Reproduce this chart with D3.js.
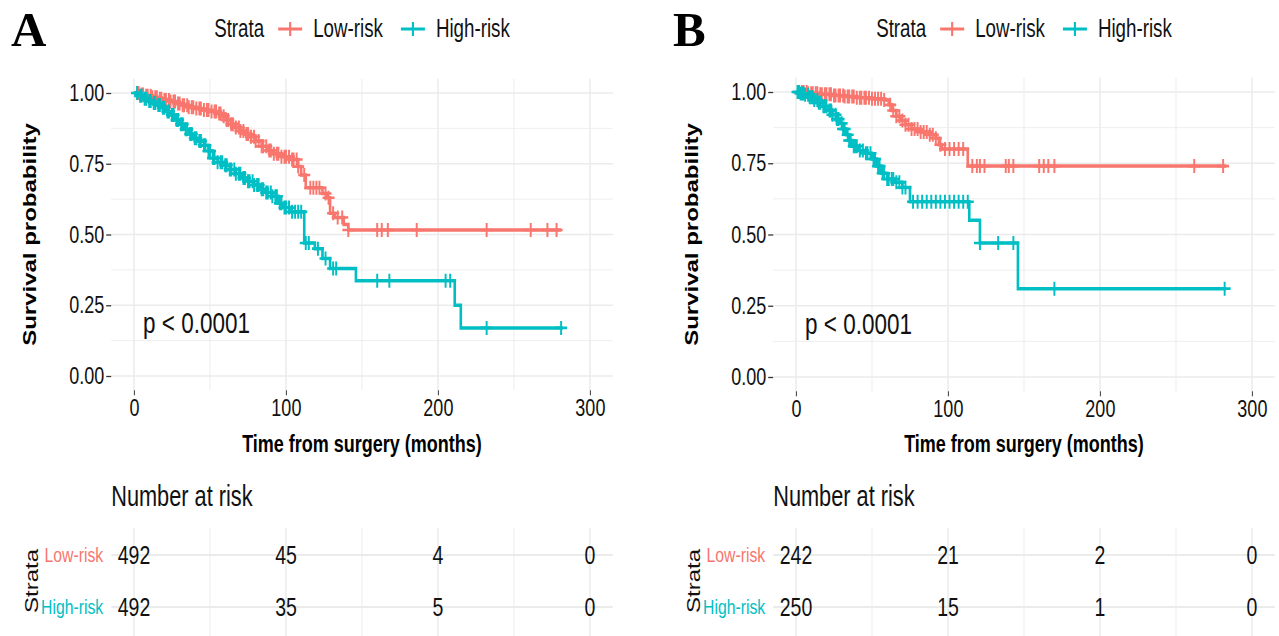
<!DOCTYPE html>
<html lang="en">
<head>
<meta charset="UTF-8">
<title>Survival by risk group</title>
<script src="https://d3js.org/d3.v7.min.js"></script>
<style>
  body { margin: 0; background: #fff; }
  svg { display: block; }
  text { font-family: "Liberation Sans", Arial, sans-serif; }
</style>
</head>
<body>
<svg id="chart"></svg>
<script>
const W = 1279, H = 636;
// the original figure is squeezed sideways, so draw wider and let the viewBox squash it
const SX = 0.75;
const px = v => v / SX;

const svg = d3.select("#chart")
    .attr("width", W).attr("height", H)
    .attr("viewBox", `0 0 ${W / SX} ${H}`)
    .attr("preserveAspectRatio", "none");

const strata = ["Low-risk", "High-risk"];
const colors = ["#F8766D", "#00BFC4"];
const xTicks = [0, 100, 200, 300];
const yTicks = [0, 0.25, 0.5, 0.75, 1];
const riskTimes = [0, 100, 200, 300];
const pText = "p < 0.0001";

// panel A: [months, survival] at each drop
const aLow = [[4,0.995],[8,0.99],[12,0.985],[16,0.98],[20,0.975],[24,0.97],[28,0.963],[32,0.957],[36,0.95],[40,0.945],[45,0.94],[50,0.935],[55,0.928],[58,0.918],[61,0.905],[64,0.89],[67,0.878],[70,0.866],[73,0.855],[76,0.845],[80,0.83],[84,0.812],[88,0.797],[92,0.785],[97,0.775],[103,0.765],[108,0.74],[110,0.71],[113,0.665],[124,0.645],[127,0.63],[129,0.575],[132,0.56],[138,0.535],[141,0.516]];
const aHigh = [[3,0.99],[6,0.98],[9,0.972],[12,0.965],[15,0.958],[18,0.948],[21,0.935],[24,0.922],[27,0.905],[30,0.89],[33,0.872],[36,0.855],[39,0.84],[42,0.83],[46,0.815],[49,0.795],[52,0.77],[55,0.755],[59,0.745],[63,0.73],[67,0.715],[71,0.70],[75,0.688],[79,0.675],[83,0.66],[87,0.648],[91,0.635],[95,0.61],[98,0.595],[103,0.58],[112,0.47],[119,0.45],[124,0.415],[129,0.38],[146,0.337],[211,0.25],[215,0.17]];
const aLowCens = [3,5,6,8,9,11,12,14,15,17,18,20,21,23,24,26,27,29,30,32,33,35,36,38,39,41,43,44,46,48,49,51,53,54,56,57,59,61,62,64,65,67,69,70,72,74,75,77,79,80,82,84,85,87,89,90,92,94,95,97,99,100,102,104,105,107,108,112,116,118,120,122,126,128,131,134,137,141,160,163,167,186,232,261,272,278];
const aHighCens = [2,4,5,7,8,10,11,13,14,16,17,19,20,22,23,25,26,28,29,31,32,34,35,37,38,40,41,43,44,46,47,49,50,52,53,55,57,58,60,61,63,64,66,67,69,70,72,73,75,76,78,79,81,82,84,85,87,88,90,91,93,94,96,97,99,100,102,104,106,108,110,113,115,121,126,131,133,160,168,205,208,232,281];
const aEnd = [281, 282];
const aRisk = [[492, 45, 4, 0], [492, 35, 5, 0]];

// panel B
const bLow = [[8,0.996],[16,0.992],[24,0.988],[32,0.984],[40,0.98],[50,0.976],[58,0.972],[61,0.955],[63,0.935],[66,0.915],[69,0.9],[72,0.885],[76,0.87],[82,0.86],[88,0.85],[92,0.838],[94,0.815],[96,0.8],[113,0.74]];
const bHigh = [[3,0.995],[6,0.99],[9,0.982],[12,0.972],[15,0.962],[18,0.95],[21,0.935],[24,0.92],[27,0.905],[29,0.89],[31,0.87],[33,0.85],[35,0.83],[37,0.81],[41,0.795],[46,0.785],[50,0.765],[53,0.74],[56,0.715],[60,0.695],[65,0.683],[70,0.665],[75,0.615],[114,0.55],[121,0.47],[146,0.31]];
const bLowCens = [2,4,5,7,8,10,11,13,14,16,17,19,20,22,23,25,26,28,29,31,32,34,35,37,38,40,42,43,45,46,48,50,52,54,56,58,62,64,66,68,70,72,74,76,78,80,82,84,86,88,90,92,95,98,101,104,107,110,116,119,121,124,138,140,143,160,163,166,170,262,281];
const bHighCens = [1,2,3,4,5,6,8,9,10,11,12,14,15,16,18,19,20,22,23,24,26,27,28,30,31,32,34,35,36,38,39,40,42,44,46,47,49,51,52,54,55,57,58,60,61,63,64,66,68,70,72,77,80,83,86,89,92,95,98,101,104,107,110,113,121,133,143,170,282];
const bEnd = [283, 283];
const bRisk = [[242, 21, 2, 0], [250, 15, 1, 0]];

function survAt(events, t) {
    let s = 1;
    events.forEach(e => { if (e[0] <= t) s = e[1]; });
    return s;
}

function drawPanel(o) {
    const g = svg.append("g");
    const x = d3.scaleLinear().domain([0, 300]).range([px(o.x0), px(o.x0 + 456)]);
    const y = d3.scaleLinear().domain([0, 1]).range([o.y0, o.y1]);
    const xl = x(-15), xr = x(315), yt = y(1.05), yb = y(-0.05);

    // grid
    const grid = g.append("g");
    d3.range(0, 301, 50).forEach(t => {
        grid.append("line").attr("x1", x(t)).attr("x2", x(t)).attr("y1", yt).attr("y2", yb)
            .attr("stroke", "#ebebeb").attr("stroke-width", t % 100 ? 1.2 : 2);
    });
    d3.range(0, 1.01, 0.125).forEach(s => {
        grid.append("line").attr("x1", xl).attr("x2", xr).attr("y1", y(s)).attr("y2", y(s))
            .attr("stroke", "#ebebeb").attr("stroke-width", Math.round(s * 8) % 2 ? 1 : 1.6);
    });

    // axes
    const ya = g.append("g").attr("transform", `translate(${xl},0)`)
        .call(d3.axisLeft(y).tickValues(yTicks).tickFormat(d3.format(".2f"))
            .tickSize(px(5)).tickPadding(px(2)));
    const xa = g.append("g").attr("transform", `translate(0,${yb})`)
        .call(d3.axisBottom(x).tickValues(xTicks).tickSize(5).tickPadding(4));
    [ya, xa].forEach(a => {
        a.select(".domain").remove();
        a.selectAll(".tick line").attr("stroke", "#333").attr("stroke-width", 1.3);
        a.selectAll(".tick text").attr("fill", "#111").attr("font-size", 24)
            .style("font-family", '"Liberation Sans", Arial, sans-serif');
    });

    g.append("text").attr("transform", `translate(${px(o.x0 - 98)},${(yt + yb) / 2}) rotate(-90)`)
        .attr("text-anchor", "middle").attr("font-weight", "bold").attr("font-size", 24)
        .text("Survival probability");
    g.append("text").attr("x", (xl + xr) / 2).attr("y", 452)
        .attr("text-anchor", "middle").attr("font-weight", "bold").attr("font-size", 24)
        .text("Time from surgery (months)");

    // curves
    const line = d3.line().x(d => x(d[0])).y(d => y(d[1])).curve(d3.curveStepAfter);
    o.curves.forEach((ev, i) => {
        const pts = [[0, 1]].concat(ev, [[o.end[i], ev[ev.length - 1][1]]]);
        g.append("path").attr("d", line(pts)).attr("fill", "none")
            .attr("stroke", colors[i]).attr("stroke-width", 3.5);
        g.append("g").selectAll("path").data(o.cens[i]).join("path")
            .attr("d", t => {
                const cx = x(t), cy = y(survAt(ev, t));
                return `M${cx - px(6)},${cy}H${cx + px(6)}M${cx},${cy - 7}V${cy + 7}`;
            })
            .attr("stroke", colors[i]).attr("stroke-width", 2.6).attr("fill", "none");
    });

    g.append("text").attr("x", x(6)).attr("y", y(0.19) + 11).attr("font-size", 30).attr("fill", "#111")
        .text(pText);

    // legend on top, centred on the panel
    const lg = g.append("g").attr("transform", "translate(0,37)");
    let cur = 0;
    const items = [];
    const t0 = lg.append("text").attr("font-size", 25).attr("fill", "#111").text("Strata");
    items.push([t0, cur]);
    cur += t0.node().getComputedTextLength() + px(14);
    strata.forEach((s, i) => {
        const k = lg.append("path").attr("stroke", colors[i]).attr("stroke-width", 2.8).attr("fill", "none")
            .attr("d", `M0,-8H${px(24)}M${px(12)},-15V-1`);
        items.push([k, cur]);
        cur += px(24) + px(11);
        const tx = lg.append("text").attr("font-size", 25).attr("fill", "#111").text(s);
        items.push([tx, cur]);
        cur += tx.node().getComputedTextLength() + px(18);
    });
    cur -= px(18);
    const start = (xl + xr) / 2 - cur / 2;
    items.forEach(([el, off]) => {
        if (el.node().tagName === "text") el.attr("x", start + off);
        else el.attr("transform", `translate(${start + off},0)`);
    });

    // panel letter, not squeezed
    g.append("text").attr("transform", `translate(${px(o.x0 - 123)},46) scale(${1 / SX},1)`)
        .attr("font-size", 49).attr("font-weight", "bold")
        .style("font-family", '"Liberation Serif", "Times New Roman", serif')
        .text(o.letter);

    // risk table
    const ry = d3.scalePoint().domain(strata).range([555, 607]);
    const tg = g.append("g");
    d3.range(0, 301, 50).forEach(t => {
        tg.append("line").attr("x1", x(t)).attr("x2", x(t)).attr("y1", 528).attr("y2", H)
            .attr("stroke", "#ebebeb").attr("stroke-width", t % 100 ? 1.2 : 2);
    });
    strata.forEach(s => {
        tg.append("line").attr("x1", xl).attr("x2", xr).attr("y1", ry(s)).attr("y2", ry(s))
            .attr("stroke", "#ebebeb").attr("stroke-width", 2);
    });
    tg.append("text").attr("x", xl).attr("y", 506).attr("font-size", 29).attr("fill", "#111")
        .text("Number at risk");
    strata.forEach((s, i) => {
        tg.append("text").attr("x", xl - px(8)).attr("y", ry(s) + 7).attr("text-anchor", "end")
            .attr("font-size", 21).attr("fill", colors[i]).text(s);
        o.risk[i].forEach((n, j) => {
            tg.append("text").attr("x", x(riskTimes[j])).attr("y", ry(s) + 9).attr("text-anchor", "middle")
                .attr("font-size", 26).attr("fill", "#111").text(n);
        });
    });
    tg.append("text").attr("transform", `translate(${px(o.x0 - 96)},${(ry(strata[0]) + ry(strata[1])) / 2}) rotate(-90)`)
        .attr("text-anchor", "middle").attr("font-size", 24).attr("fill", "#111").text("Strata");
}

drawPanel({ letter: "A", x0: 134, y0: 376, y1: 93, curves: [aLow, aHigh], cens: [aLowCens, aHighCens], end: aEnd, risk: aRisk });
drawPanel({ letter: "B", x0: 796, y0: 377, y1: 92, curves: [bLow, bHigh], cens: [bLowCens, bHighCens], end: bEnd, risk: bRisk });
</script>
</body>
</html>
